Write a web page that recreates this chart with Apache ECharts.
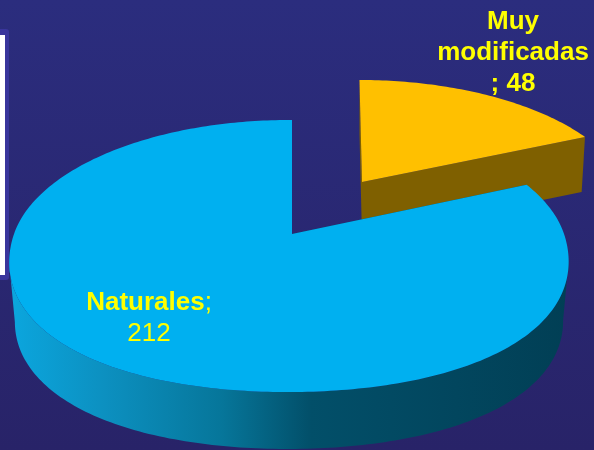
<!DOCTYPE html>
<html>
<head>
<meta charset="utf-8">
<style>html,body{margin:0;padding:0;background:#2a2870}#c{width:594px;height:450px}</style>
<script src="https://cdn.jsdelivr.net/npm/echarts@6/dist/echarts.min.js"></script>
</head>
<body>
<div id="c"></div>
<script>
var categories = ['Muy modificadas', 'Naturales'];
var values = [48, 212];
var labelLines = [['Muy', 'modificadas', '; '], ['', '']];

var total = values[0] + values[1];
var looks = [
  { ox: 362, oy: 182, rx: 263, ry: 121.4, k: 0.19, m: 0, skew: -3, depth: 55, xs: 0.985, ys: 1, bulge: 0,
    top: '#ffc000', side: '#7f6000', cut: '#7f6000' },
  { ox: 292, oy: 234, rx: 275, ry: 132.5, k: 0.162, m: 0.0108, skew: 0, depth: 60, xs: 0.98, ys: 0.98, bulge: 0.028,
    top: '#00b0f0',
    side: { type: 'linear', x: 10, y: 0, x2: 568, y2: 0, global: true, colorStops: [
      { offset: 0, color: '#0ba6de' }, { offset: 0.17, color: '#0c90c0' },
      { offset: 0.38, color: '#06769a' }, { offset: 0.54, color: '#024f69' },
      { offset: 0.8, color: '#02465e' }, { offset: 1, color: '#013f55' }] },
    cut: '#024f69' }
];

function project(l, deg, r, low) {
  var a = deg * Math.PI / 180, su = Math.sin(a), sv = Math.cos(a);
  var f = r;
  if (sv < 0) f = r * (1 + l.bulge * Math.pow(Math.sin(2 * a), 2));
  var u = f * su, v = f * sv;
  var w = 1 + l.k * v + l.m * u;
  var x = (l.rx * u + l.skew * v) / w, y = -l.ry * v / w;
  return low ? [l.ox + x * l.xs, l.oy + l.depth + y * l.ys] : [l.ox + x, l.oy + y];
}
function arc(l, a0, a1, low) {
  var pts = [], n = Math.ceil(Math.abs(a1 - a0));
  for (var i = 0; i <= n; i++) pts.push(project(l, a0 + (a1 - a0) * i / n, 1, low));
  return pts;
}
function extreme(pts, sign) {
  var best = 0;
  for (var i = 1; i < pts.length; i++) if ((pts[i][0] - pts[best][0]) * sign > 0) best = i;
  return best;
}
function poly(points, fill) {
  return { type: 'polygon', shape: { points: points }, style: { fill: fill } };
}

function renderSlice(params, api) {
  var idx = params.dataIndex, val = api.value(0), l = looks[idx], before = 0;
  for (var i = 0; i < idx; i++) before += values[i];
  var a0 = before / total * 360, a1 = (before + val) / total * 360;
  var topArc = arc(l, a0, a1, false), lowArc = arc(l, a0, a1, true);
  var c = project(l, 0, 0, false), cLow = project(l, 0, 0, true);
  var wall = topArc.slice(extreme(topArc, 1), extreme(topArc, -1) + 1)
    .concat(lowArc.slice(extreme(lowArc, 1), extreme(lowArc, -1) + 1).reverse());
  return {
    type: 'group',
    children: [
      poly(wall, l.side),
      poly([c, cLow, project(l, a0, 1, true), project(l, a0, 1, false)], l.cut),
      poly([c, cLow, project(l, a1, 1, true), project(l, a1, 1, false)], l.cut),
      poly([c].concat(topArc), l.top)
    ]
  };
}

var chart = echarts.init(document.getElementById('c'), null, { renderer: 'canvas' });
var font = 'Liberation Sans, Arial, sans-serif';
chart.setOption({
  animation: false,
  backgroundColor: { type: 'linear', x: 0, y: 0, x2: 0, y2: 1, colorStops: [
    { offset: 0, color: '#2b2d7e' }, { offset: 1, color: '#282368' }] },
  graphic: [
    { type: 'rect', shape: { x: -6, y: 29, width: 15, height: 251, r: 3 }, style: { fill: '#39359c' }, z: 1 },
    { type: 'rect', shape: { x: -6, y: 35, width: 11, height: 240 }, style: { fill: '#ffffff' }, z: 2 },
    { type: 'text', z: 10, style: { x: 513, y: 6, align: 'center', verticalAlign: 'top', fill: '#ffff00',
        font: 'bold 26px ' + font, lineHeight: 31,
        text: labelLines[0][0] + '\n' + labelLines[0][1] + '\n' + labelLines[0][2] + values[0] } },
    { type: 'text', z: 10, style: { x: 149, y: 287, align: 'center', verticalAlign: 'top',
        text: '{b|' + categories[1] + '}{n|;}\n{n|' + values[1] + '}',
        rich: { b: { font: 'bold 26px ' + font, fill: '#ffff00', lineHeight: 31 },
                n: { font: '26px ' + font, fill: '#ffff00', lineHeight: 31 } } } }
  ],
  series: [{
    type: 'custom',
    coordinateSystem: 'none',
    silent: true,
    z: 5,
    renderItem: renderSlice,
    encode: { value: 0 },
    data: values.map(function (v, i) { return { name: categories[i], value: [v] }; })
  }]
});
</script>
</body>
</html>
